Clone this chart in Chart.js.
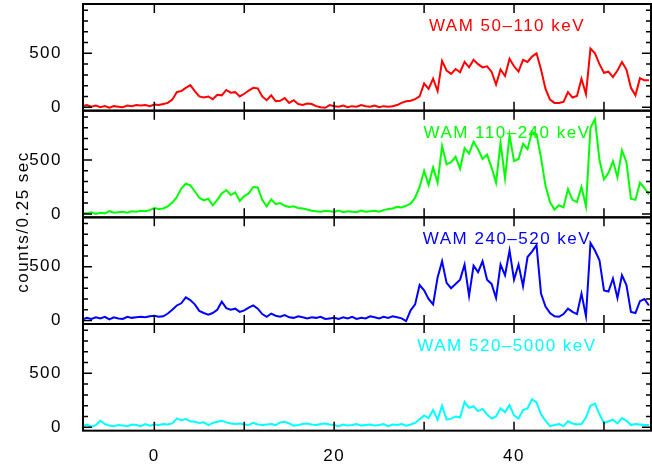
<!DOCTYPE html>
<html><head><meta charset="utf-8">
<script src="https://cdn.jsdelivr.net/npm/chart.js@4.4.0/dist/chart.umd.min.js"></script>
<style>html,body{margin:0;padding:0;background:#fff;overflow:hidden}#wrap{width:652px;height:464px;position:relative}</style>
</head><body><div id="wrap"><canvas id="c" width="652" height="464"></canvas></div>
<script>
// time (s) of each 0.5 s sample
const times = [-8,-7.5,-7,-6.5,-6,-5.5,-5,-4.5,-4,-3.5,-3,-2.5,-2,-1.5,-1,-0.5,0,
  0.5,1,1.5,2,2.5,3,3.5,4,4.5,5,5.5,6,6.5,7,7.5,8,8.5,9,9.5,10,10.5,11,11.5,12,12.5,13,13.5,14,14.5,15,15.5,16,16.5,17,17.5,18,18.5,19,19.5,
  20,20.5,21,21.5,22,22.5,23,23.5,24,24.5,25,25.5,26,26.5,27,27.5,28,28.5,29,29.5,30,30.5,31,31.5,32,32.5,33,33.5,34,34.5,
  35,35.5,36,36.5,37,37.5,38,38.5,39,39.5,40,40.5,41,41.5,42,42.5,43,43.5,44,44.5,45,45.5,46,46.5,47,47.5,48,48.5,49,49.5,
  50,50.5,51,51.5,52,52.5,53,53.5,54,54.5,55];

const band1 = [10,20,5,15,0,10,-5,10,5,0,15,10,20,15,20,10,25,
  20,30,40,70,140,150,180,205,150,100,90,100,75,115,110,160,135,140,100,125,155,180,175,100,65,110,55,60,85,40,65,30,20,35,30,10,0,-5,20,
  10,5,15,0,10,5,20,10,5,15,0,10,5,10,20,40,55,60,75,100,220,170,265,150,430,340,310,355,325,420,
  370,440,400,370,380,330,210,350,290,450,380,330,440,420,470,500,350,170,70,40,40,50,140,90,105,265,120,545,500,400,
  320,330,280,340,420,350,180,110,270,250,250];

const band2 = [10,5,15,0,10,5,25,10,15,20,10,25,20,30,25,35,55,
  45,50,70,105,155,235,280,265,210,150,125,140,80,130,190,220,175,200,120,165,190,250,245,130,70,135,90,100,75,65,70,55,50,40,30,25,20,30,25,
  20,30,15,25,20,15,30,20,25,30,20,35,45,50,65,60,75,95,150,250,400,270,430,290,630,460,480,530,420,610,
  560,670,600,510,550,430,290,660,330,730,490,510,650,600,760,740,520,260,110,40,80,60,230,130,110,250,70,800,880,500,
  320,380,490,340,590,480,140,130,290,240,180];

const band3 = [10,25,15,30,20,35,10,30,20,15,35,25,30,35,30,40,45,
  35,40,65,100,140,160,215,190,150,90,70,55,70,100,175,115,100,110,80,95,120,140,110,60,35,65,45,35,50,30,25,40,30,20,30,25,35,15,20,
  25,15,30,20,35,15,25,20,40,30,20,35,25,40,30,20,-5,95,150,330,280,200,150,400,550,350,300,340,380,520,
  230,510,450,550,380,340,210,520,420,650,380,520,320,590,640,700,250,130,70,40,35,60,110,80,60,250,40,720,650,560,
  280,270,390,210,420,330,80,70,180,200,140];

const band4 = [10,25,5,20,60,30,15,10,20,15,10,25,20,10,30,15,25,
  20,30,25,35,80,65,75,55,50,40,45,20,40,50,60,45,35,30,35,25,20,40,25,20,25,30,20,45,50,35,15,20,30,35,25,20,30,35,25,
  20,10,25,15,20,30,15,20,25,15,20,30,10,25,20,30,15,25,40,75,110,85,160,70,200,70,80,100,90,235,
  180,195,150,170,120,80,100,175,140,205,110,80,160,175,260,230,120,60,10,20,30,10,55,35,25,30,90,200,220,120,
  40,55,70,35,85,60,20,30,25,20,20];

const bandLabels = ['WAM 50\u2013110 keV','WAM 110\u2013240 keV','WAM 240\u2013520 keV','WAM 520\u20135000 keV'];
const bandColors = ['#ff0000','#00ff00','#0000ff','#00ffff'];
const xTickLabels = [0,20,40];
const xTickMarks = [0,10,20,30,40,50];
const yTickLabels = [0,500];
const yTickMarks = [0,100,200,300,400,500,600,700,800,900];
const yTitle = 'counts/0.25 sec';

const FONT = '"Liberation Sans", Arial, sans-serif';
const series = [band1, band2, band3, band4];
const panelIds = ['y1','y2','y3','y4'];

const datasets = series.map((vals, i) => ({
  label: bandLabels[i],
  data: times.map((t, k) => ({x: t, y: vals[k]})),
  yAxisID: panelIds[i],
  borderColor: bandColors[i],
  backgroundColor: bandColors[i],
  borderWidth: 2,
  pointRadius: 0,
  tension: 0,
  fill: false
}));

function noPad(s) { s.paddingTop = 0; s.paddingBottom = 0; s.paddingLeft = 0; s.paddingRight = 0; }

function yScale(i) {
  return {
    type: 'linear', position: 'left', stack: 'panels', stackWeight: 1, weight: 4 - i,
    min: -32, max: 958,
    grid: {display: false}, border: {display: false},
    ticks: {color: '#000', font: {family: FONT, size: 17}, padding: 13},
    afterBuildTicks(s) { s.ticks = yTickLabels.map(v => ({value: v})); },
    afterFit(s) { s.width = 83; noPad(s); }
  };
}

const framePlugin = {
  id: 'frame',
  beforeDraw(chart) { chart.ctx.letterSpacing = '1.5px'; },
  afterDatasetsDraw(chart) {
    const ctx = chart.ctx;
    const {left, right} = chart.chartArea;
    const xs = chart.scales.x;
    ctx.save();
    ctx.strokeStyle = '#000';
    panelIds.forEach((id, i) => {
      const s = chart.scales[id];
      const top = s.top, bottom = s.bottom;
      ctx.lineWidth = 1.5;
      ctx.beginPath();
      yTickMarks.forEach(v => {
        const py = s.getPixelForValue(v);
        const len = yTickLabels.includes(v) ? 9 : 5;
        ctx.moveTo(left, py); ctx.lineTo(left + len, py);
        ctx.moveTo(right, py); ctx.lineTo(right - len, py);
      });
      xTickMarks.forEach(t => {
        const px = xs.getPixelForValue(t);
        ctx.moveTo(px, top); ctx.lineTo(px, top + 9);
        ctx.moveTo(px, bottom); ctx.lineTo(px, bottom - 9);
      });
      ctx.stroke();
      ctx.lineWidth = 2;
      ctx.strokeRect(left, top, right - left, bottom - top);
      ctx.fillStyle = bandColors[i];
      ctx.font = '17px ' + FONT;
      ctx.letterSpacing = '1.5px';
      ctx.textAlign = 'center';
      ctx.textBaseline = 'alphabetic';
      ctx.fillText(bandLabels[i], 507, top + 27);
    });
    ctx.fillStyle = '#000';
    ctx.translate(23, 222);
    ctx.rotate(-Math.PI / 2);
    ctx.textAlign = 'center';
    ctx.textBaseline = 'middle';
    ctx.fillText(yTitle, 0, 0);
    ctx.restore();
  }
};

new Chart(document.getElementById('c'), {
  type: 'line',
  data: {datasets},
  options: {
    responsive: false, animation: false, devicePixelRatio: 1,
    layout: {padding: {top: 4, right: 1, left: 0, bottom: 0}},
    plugins: {legend: {display: false}, tooltip: {enabled: false}, title: {display: false}},
    scales: {
      x: {
        type: 'linear', position: 'bottom', min: -7.93, max: 55.23,
        grid: {display: false}, border: {display: false},
        ticks: {color: '#000', font: {family: FONT, size: 17}, padding: 7, maxRotation: 0},
        afterBuildTicks(s) { s.ticks = xTickLabels.map(v => ({value: v})); },
        afterFit(s) { s.height = 33.33; noPad(s); }
      },
      y1: yScale(0), y2: yScale(1), y3: yScale(2), y4: yScale(3)
    }
  },
  plugins: [framePlugin]
});
</script>
</body></html>
